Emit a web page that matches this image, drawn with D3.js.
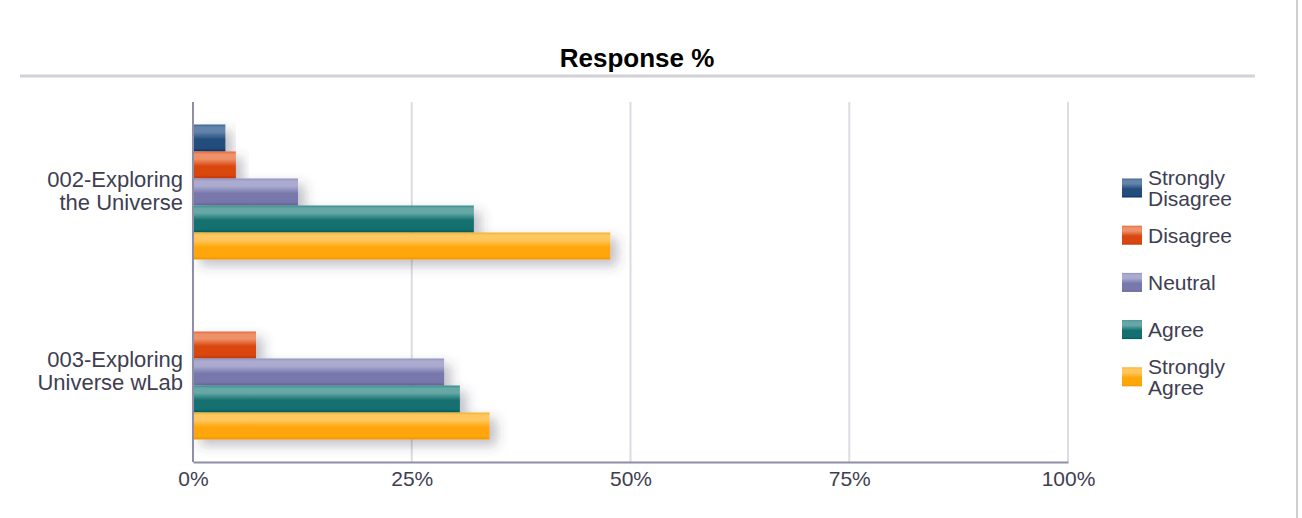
<!DOCTYPE html>
<html>
<head>
<meta charset="utf-8">
<script src="https://cdn.jsdelivr.net/npm/d3@7"></script>
<style>
  html, body { margin: 0; padding: 0; background: #fff; }
  svg { display: block; font-family: "Liberation Sans", Arial, Helvetica, sans-serif; }
  .tick-label, .legend-label { fill: #3e3e52; font-size: 21px; }
  .cat-label { fill: #3e3e52; font-size: 22px; }
  .title { font-size: 26px; font-weight: bold; fill: #000; }
</style>
</head>
<body>
<svg id="chart" width="1302" height="518"></svg>
<script>
(function () {
  'use strict';

  const TITLE = 'Response %';
  const CATEGORIES = ['002-Exploring the Universe', '003-Exploring Universe wLab'];
  const CATEGORY_LINES = [['002-Exploring', 'the Universe'], ['003-Exploring', 'Universe wLab']];
  const SERIES = ['Strongly Disagree', 'Disagree', 'Neutral', 'Agree', 'Strongly Agree'];
  const LEGEND_LINES = [['Strongly', 'Disagree'], ['Disagree'], ['Neutral'], ['Agree'], ['Strongly', 'Agree']];

  // percent of responses per category, one array per series
  const STRONGLY_DISAGREE = [3.7, 0];
  const DISAGREE = [4.9, 7.2];
  const NEUTRAL = [12.0, 28.7];
  const AGREE = [32.1, 30.5];
  const STRONGLY_AGREE = [47.7, 33.9];
  const TICKS = [0, 25, 50, 75, 100];

  const VALUES = [STRONGLY_DISAGREE, DISAGREE, NEUTRAL, AGREE, STRONGLY_AGREE];

  // gradient stops per series: light top, base, dark bottom
  const COLORS = [
    { edge: '#3e6490', light: '#6383aa', base: '#234d7d', dark: '#0f2f5c' },
    { edge: '#e0683a', light: '#ee9068', base: '#d9460f', dark: '#c23a00' },
    { edge: '#9090c0', light: '#ababd0', base: '#7878ad', dark: '#65659a' },
    { edge: '#3a8c8a', light: '#65a8a6', base: '#13706f', dark: '#005f5e' },
    { edge: '#f2b030', light: '#ffc75e', base: '#ffa60a', dark: '#f09800' }
  ];

  const plot = { left: 193, right: 1068, top: 102, bottom: 462 };

  const svg = d3.select('#chart');
  const defs = svg.append('defs');

  const shadow = defs.append('filter').attr('id', 'bar-shadow')
    .attr('x', '-10%').attr('y', '-40%').attr('width', '140%').attr('height', '220%');
  shadow.append('feDropShadow')
    .attr('dx', 7).attr('dy', 6).attr('stdDeviation', 6)
    .attr('flood-color', '#3a3a55').attr('flood-opacity', 0.32);

  COLORS.forEach((c, i) => {
    const g = defs.append('linearGradient').attr('id', 'grad-' + i)
      .attr('x1', 0).attr('y1', 0).attr('x2', 0).attr('y2', 1);
    [[0, c.edge], [0.1, c.light], [0.28, c.light], [0.55, c.base], [0.88, c.base], [1, c.dark]].forEach(s => {
      g.append('stop').attr('offset', s[0]).attr('stop-color', s[1]);
    });
  });

  // title + rule
  svg.append('text').attr('class', 'title')
    .attr('x', 637).attr('y', 67).attr('text-anchor', 'middle').text(TITLE);
  svg.append('line').attr('x1', 20).attr('x2', 1255).attr('y1', 76).attr('y2', 76)
    .attr('stroke', '#d2d2da').attr('stroke-width', 3);

  // right border of the page
  svg.append('line').attr('x1', 1297).attr('x2', 1297).attr('y1', 0).attr('y2', 518)
    .attr('stroke', '#cfcfcf').attr('stroke-width', 2);

  const x = d3.scaleLinear().domain([0, 100]).range([plot.left, plot.right]);
  const y0 = d3.scaleBand().domain(CATEGORIES).range([plot.top, plot.bottom])
    .paddingInner(0.25).paddingOuter(0.125);
  const y1 = d3.scaleBand().domain(SERIES).range([0, y0.bandwidth()]);

  // gridlines
  svg.append('g').selectAll('line').data(TICKS.slice(1)).join('line')
    .attr('x1', d => x(d)).attr('x2', d => x(d))
    .attr('y1', plot.top).attr('y2', plot.bottom)
    .attr('stroke', '#dcdce3').attr('stroke-width', 2);

  // bars
  const rows = [];
  CATEGORIES.forEach((cat, ci) => {
    SERIES.forEach((s, si) => {
      rows.push({ cat, series: s, si, value: VALUES[si][ci] });
    });
  });

  svg.append('g').selectAll('rect').data(rows.filter(d => d.value > 0)).join('rect')
    .attr('x', x(0))
    .attr('y', d => y0(d.cat) + y1(d.series))
    .attr('width', d => x(d.value) - x(0))
    .attr('height', y1.bandwidth())
    .attr('fill', d => 'url(#grad-' + d.si + ')')
    .attr('filter', 'url(#bar-shadow)');

  // y axis line
  svg.append('line').attr('x1', plot.left).attr('x2', plot.left)
    .attr('y1', plot.top).attr('y2', plot.bottom)
    .attr('stroke', '#8e8ea6').attr('stroke-width', 2);

  // x axis
  const xAxis = d3.axisBottom(x).tickValues(TICKS).tickFormat(d => d + '%').tickSize(0).tickPadding(9);
  const gx = svg.append('g').attr('transform', `translate(0,${plot.bottom})`).call(xAxis);
  gx.select('.domain').attr('stroke', '#8e8ea6').attr('stroke-width', 2);
  gx.selectAll('text').attr('class', 'tick-label').attr('font-size', null).attr('font-family', null);

  // category labels
  const cats = svg.append('g').selectAll('text').data(CATEGORIES).join('text')
    .attr('class', 'cat-label').attr('text-anchor', 'end')
    .attr('x', 183)
    .attr('y', d => y0(d) + y0.bandwidth() / 2 - 5);
  cats.each(function (d, i) {
    const lines = CATEGORY_LINES[i];
    d3.select(this).selectAll('tspan').data(lines).join('tspan')
      .attr('x', 183)
      .attr('dy', (l, j) => j === 0 ? 0 : 23)
      .text(l => l);
  });

  // legend
  const legend = svg.append('g').attr('transform', 'translate(1122,0)');
  const legendCenters = SERIES.map((s, i) => 188.5 + i * 47.2);
  SERIES.forEach((s, i) => {
    const cy = legendCenters[i];
    legend.append('rect').attr('x', 0).attr('y', cy - 10).attr('width', 20).attr('height', 19)
      .attr('fill', 'url(#grad-' + i + ')');
    const lines = LEGEND_LINES[i];
    const t = legend.append('text').attr('class', 'legend-label')
      .attr('x', 26).attr('y', cy + 7 - (lines.length - 1) * 10.5);
    t.selectAll('tspan').data(lines).join('tspan')
      .attr('x', 26).attr('dy', (l, j) => j === 0 ? 0 : 21).text(l => l);
  });
})();
</script>
</body>
</html>
